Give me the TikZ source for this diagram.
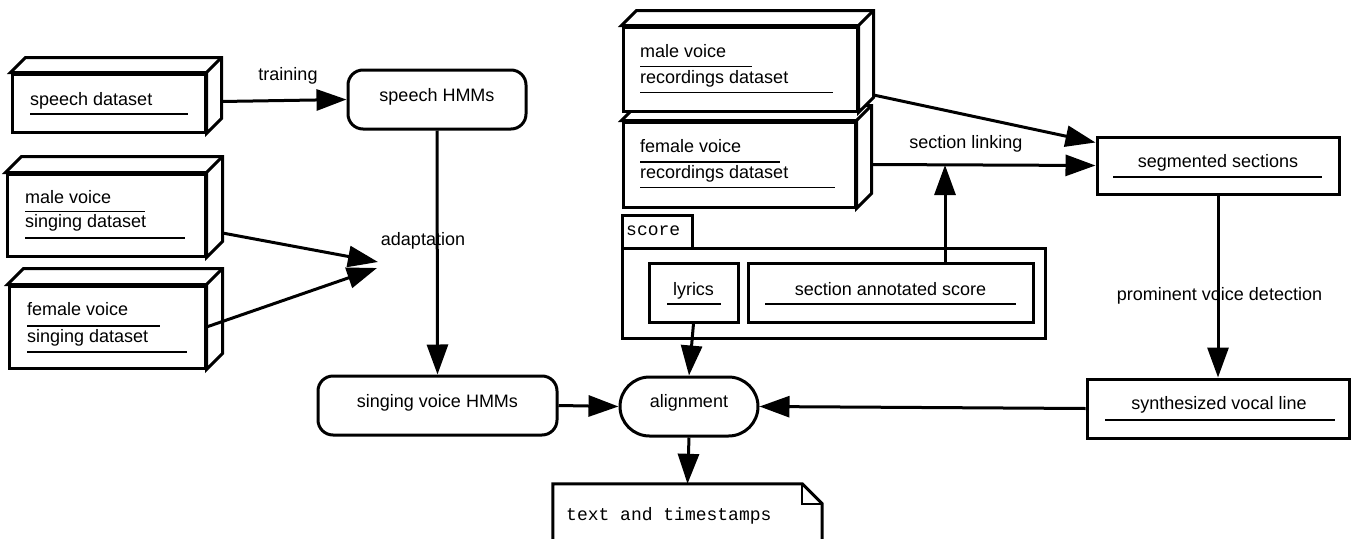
\documentclass[tikz,border=0pt]{standalone}
\usepackage{fontspec}
\setmainfont{Liberation Sans}
\setmonofont{Liberation Mono}
\usetikzlibrary{arrows.meta}
\tikzset{
  box/.style={draw, line width=3pt, fill=white, inner sep=0pt},
  rbox/.style={box, rounded corners=15pt},
  ul/.style={line width=1.5pt},
  lbl/.style={inner sep=0pt, font=\fontsize{18}{22}\selectfont},
  mono/.style={inner sep=0pt, font=\fontsize{18}{22}\selectfont\ttfamily},
  arr/.style={line width=3pt, -{Triangle[length=30pt,width=21pt]}},
}
\newcommand\tdbox[2]{%
  \draw[line width=3pt, fill=white] (#1.north west) -- ([shift={(#2,-#2)}]#1.north west)
    -- ([shift={(#2,-#2)}]#1.north east) -- ([shift={(#2,-#2)}]#1.south east)
    -- (#1.south east) -- (#1.north east) -- cycle;
  \draw[line width=3pt] (#1.north east) -- ([shift={(#2,-#2)}]#1.north east);
}
\begin{document}
\begin{tikzpicture}[x=1pt, y=-1pt]
\useasboundingbox (0,0) rectangle (1351,538);
\clip (0,0) rectangle (1351,538);

% ---- left datasets
\node[box, minimum width=193pt, minimum height=58pt] (sd) at (108.5,103) {};
\tdbox{sd}{15}
\node[lbl, anchor=base west] (sdt) at (30,105) {speech dataset};
\draw[ul] (30,114) -- (188,114);

\node[box, minimum width=198pt, minimum height=82pt] (msd) at (106,215) {};
\tdbox{msd}{16}
\node[lbl, anchor=base west] (msdt1) at (25,203) {male voice};
\draw[ul] (25,211.5) -- (145,211.5);
\node[lbl, anchor=base west] (msdt2) at (25,227) {singing dataset};
\draw[ul] (25,238) -- (185,238);

\node[box, minimum width=196pt, minimum height=82pt] (fsd) at (107,327) {};
\tdbox{fsd}{16}
\node[lbl, anchor=base west] (fsdt1) at (27,315) {female voice};
\draw[ul] (27,326) -- (160,326);
\node[lbl, anchor=base west] (fsdt2) at (27,342) {singing dataset};
\draw[ul] (27,352) -- (187,352);

% ---- HMMs
\node[rbox, minimum width=178pt, minimum height=59pt] (shmm) at (437,99.5) {};
\node[lbl, anchor=base] (shmmt) at (437,101) {speech HMMs};
\node[rbox, minimum width=239pt, minimum height=59pt] (svh) at (437.5,405.5) {};
\node[lbl, anchor=base] (svht) at (437.5,407) {singing voice HMMs};

\node[lbl, anchor=base] (trl) at (288,80) {training};
\node[lbl, anchor=base] (adl) at (423,245) {adaptation};
\coordinate (ad1) at (378,262);
\coordinate (ad2) at (377,268);

% ---- alignment
\node[box, rounded corners=29.5pt, minimum width=138pt, minimum height=59pt] (al) at (689,406.5) {};
\node[lbl, anchor=base] (alt) at (689,407) {alignment};

% ---- output note
\node[inner sep=0pt, minimum width=269pt, minimum height=76pt] (note) at (687.5,522) {};
\draw[line width=3pt, fill=white] (note.south west) -- (note.north west) -- ([xshift=-20pt]note.north east)
  -- ([yshift=-20pt]note.north east) -- (note.south east);
\draw[line width=1.5pt] ([xshift=-20pt]note.north east) |- ([yshift=-20pt]note.north east);
\node[mono, anchor=base west] (notet) at (566,520) {text and timestamps};

% ---- recordings
\node[box, minimum width=232pt, minimum height=85pt] (frd) at (739,164.5) {};
\tdbox{frd}{15}
\node[lbl, anchor=base west] (frdt1) at (640,152) {female voice};
\draw[ul] (640,162) -- (780,162);
\node[lbl, anchor=base west] (frdt2) at (640,178) {recordings dataset};
\draw[ul] (640,187.5) -- (835,187.5);

\node[box, minimum width=234pt, minimum height=84pt] (mrd) at (740,69) {};
\tdbox{mrd}{15}
\node[lbl, anchor=base west] (mrdt1) at (640,57) {male voice};
\draw[ul] (640,66.5) -- (752,66.5);
\node[lbl, anchor=base west] (mrdt2) at (640,83) {recordings dataset};
\draw[ul] (640,92.5) -- (833,92.5);

% ---- score package
\node[box, minimum width=70pt, minimum height=33pt] (tab) at (657,231.5) {};
\node[box, minimum width=423pt, minimum height=90pt] (pkg) at (833.5,293) {};
\node[mono, anchor=base west] (tabt) at (626,235) {score};
\node[box, minimum width=89pt, minimum height=59pt] (lyr) at (693.5,292.5) {};
\node[lbl, anchor=base] (lyrt) at (693.5,295) {lyrics};
\draw[ul] (667,304) -- (721,304);
\node[box, minimum width=285pt, minimum height=59pt] (sas) at (890.5,292.5) {};
\node[lbl, anchor=base] (sast) at (890.5,295) {section annotated score};
\draw[ul] (765,304) -- (1016,304);

% ---- right side
\node[box, minimum width=242pt, minimum height=57pt] (seg) at (1218,165.5) {};
\node[lbl, anchor=base] (segt) at (1218,167) {segmented sections};
\draw[ul] (1113,177) -- (1322,177);
\node[box, minimum width=262pt, minimum height=59pt] (syn) at (1218,408.5) {};
\node[lbl, anchor=base] (synt) at (1219,409) {synthesized vocal line};
\draw[ul] (1105,420) -- (1335,420);

\node[lbl, anchor=base] (sll) at (966,148) {section linking};
\node[lbl, anchor=base] (pvl) at (1219.5,300) {prominent voice detection};
\coordinate (link) at (945,165);

% ---- connectors
\draw[arr] ([xshift=15pt,yshift=1.5pt]sd.east) -- (shmm.west);
\draw[arr] (shmm.south) -- (svh.north);
\draw[arr] ([xshift=16pt,yshift=-18pt]msd.east) -- (ad1);
\draw[arr] (fsd.east) -- (ad2);
\draw[arr] (svh.east) -- (al.west);
\draw[arr] (lyr.south) -- (al.north);
\draw[arr] (syn.west) -- (al.east);
\draw[arr] (al.south) -- (note.north);
\draw[arr] (seg.south) -- (syn.north);
\draw[arr] ([xshift=15pt,yshift=-26pt]mrd.east) -- ([yshift=23pt]seg.west);
\draw[arr] ([xshift=15pt]frd.east) -- (seg.west);
\draw[arr] ([xshift=54.5pt]sas.north) -- (link);
\end{tikzpicture}
\end{document}
